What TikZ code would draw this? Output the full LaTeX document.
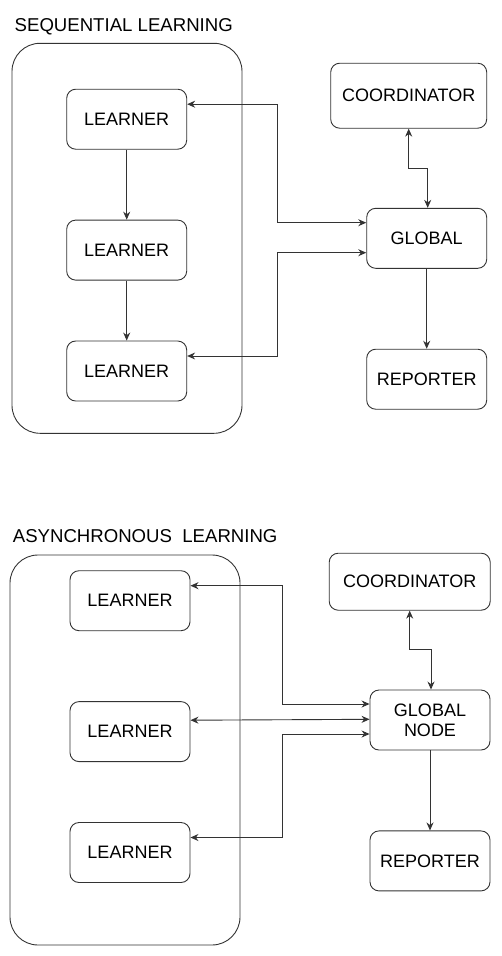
\documentclass[tikz,border=0pt]{standalone}
\usepackage{fontspec}
\setmainfont{Liberation Sans}
\usepackage{tikz}
\usetikzlibrary{arrows.meta,positioning}
\definecolor{edgegray}{HTML}{333333}
\tikzset{
  box/.style={
    rectangle,
    rounded corners=9pt,
    draw=edgegray,
    line width=0.9pt,
    fill=white,
    align=center,
    minimum width=120pt,
    minimum height=60pt,
    inner sep=2pt,
    font=\fontsize{18}{20}\selectfont
  },
  group/.style={
    rectangle,
    rounded corners=28pt,
    draw=edgegray,
    line width=0.9pt,
    minimum width=230pt,
    minimum height=390pt
  },
  heading/.style={anchor=base west,inner sep=0pt,font=\fontsize{18.6}{22}\selectfont},
  arrow/.style={-{Stealth[length=8pt,width=7pt]},line width=0.9pt,draw=edgegray},
  biarrow/.style={{Stealth[length=8pt,width=7pt]}-{Stealth[length=8pt,width=7pt]},line width=0.9pt,draw=edgegray}
}

\begin{document}
\begin{tikzpicture}[x=1pt,y=-1pt]
    \useasboundingbox (0,0) rectangle (502,956);

    % sequential learning
    \node[heading] (seqtitle) at (14.5,31.7) {SEQUENTIAL LEARNING};
    \node[group] (seqgroup) at (127,238.3) {};
    \node[box] (sl1) at (126.7,119.2) {LEARNER};
    \node[box,below=70pt of sl1] (sl2) {LEARNER};
    \node[box,below=60pt of sl2] (sl3) {LEARNER};
    \node[box,minimum width=156pt,minimum height=65pt] (scoord) at (408.7,95.7) {COORDINATOR};
    \node[box] (sglob) at (426.7,238.3) {GLOBAL};
    \node[box,below=80pt of sglob] (srep) {REPORTER};

    \draw[arrow] (sl1) -- (sl2);
    \draw[arrow] (sl2) -- (sl3);
    \draw[biarrow] ([yshift=15pt]sl1.east) -- ++(90.5,0) |- ([yshift=15.6pt]sglob.west);
    \draw[biarrow] ([yshift=15pt]sl3.east) -- ++(90.5,0) |- ([yshift=-14.4pt]sglob.west);
    \draw[biarrow] (scoord.south) -- ++(0,39.3) -| ([xshift=1pt]sglob.north);
    \draw[arrow] (sglob) -- (srep);

    % asynchronous learning
    \node[heading] (asytitle) at (12.7,542.7) {ASYNCHRONOUS\ \ LEARNING};
    \node[group] (asygroup) at (125,750) {};
    \node[box] (al1) at (130,600.7) {LEARNER};
    \node[box,below=70pt of al1] (al2) {LEARNER};
    \node[box,below=60pt of al2] (al3) {LEARNER};
    \node[box,minimum width=161pt,minimum height=57pt] (acoord) at (409.7,581.7) {COORDINATOR};
    \node[box] (aglob) at (430,720) {GLOBAL\\NODE};
    \node[box,below=80pt of aglob] (arep) {REPORTER};

    \draw[biarrow] ([yshift=15pt]al1.east) -- ++(91.5,0) |- ([yshift=16pt]aglob.west);
    \draw[biarrow] ([yshift=11.4pt]al2.east) -- ([yshift=0.7pt]aglob.west);
    \draw[biarrow] ([yshift=15pt]al3.east) -- ++(91.5,0) |- ([yshift=-14pt]aglob.west);
    \draw[biarrow] (acoord.south) -- ++(0,38.7) -| ([xshift=1pt]aglob.north);
    \draw[arrow] (aglob) -- (arep);
  \end{tikzpicture}
\end{document}
